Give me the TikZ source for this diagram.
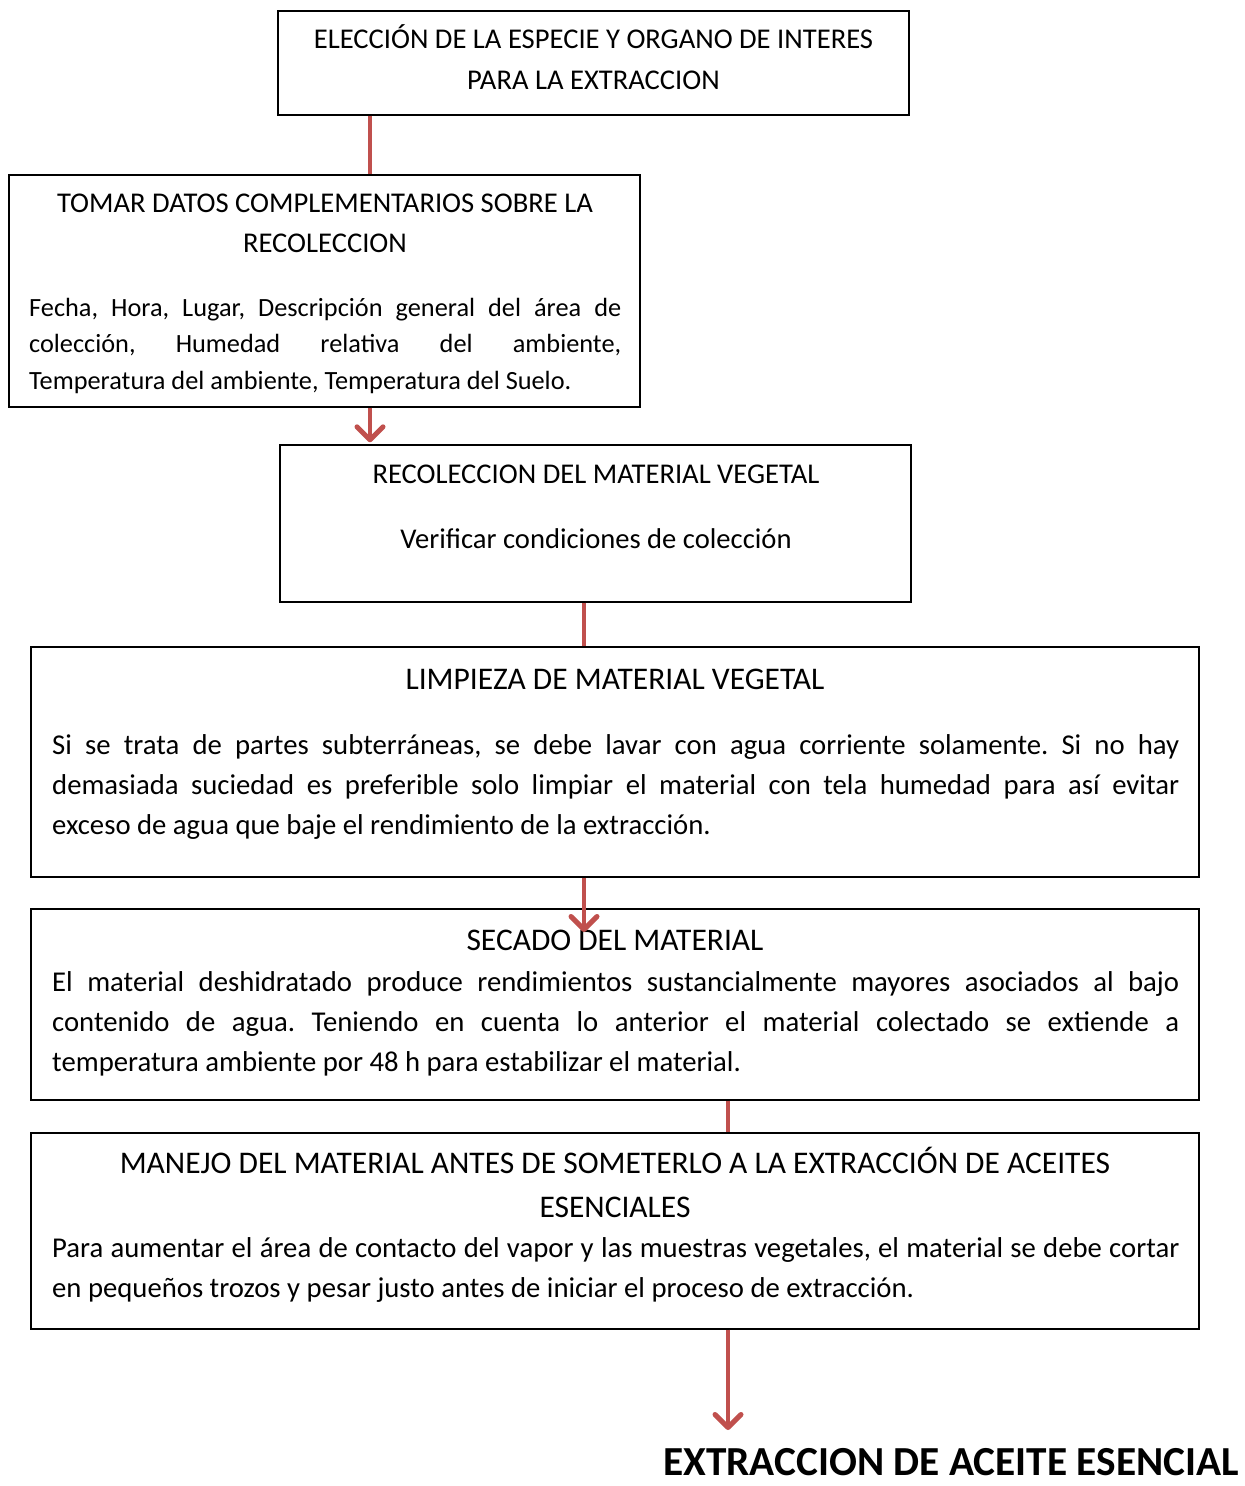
\documentclass[tikz,border=0pt]{standalone}
\usepackage{fontspec}
\setmainfont{Carlito}
\usetikzlibrary{arrows.meta}
\definecolor{arrowred}{HTML}{C0504D}
\frenchspacing
\begin{document}
\begin{tikzpicture}[x=1pt,y=-1pt,
  box/.style={draw=black, line width=1.4pt, fill=white, inner sep=0pt},
  small/.style={inner sep=0pt, font=\fontsize{28.6}{36.5}\selectfont\frenchspacing},
  smallb/.style={inner sep=0pt, font=\fontsize{26.3}{36.5}\selectfont\frenchspacing},
  big/.style={inner sep=0pt, font=\fontsize{31.5}{40}\selectfont\frenchspacing},
  bigb/.style={inner sep=0pt, font=\fontsize{28.7}{40}\selectfont\frenchspacing},
  line/.style={anchor=base},
  para/.style={anchor=base west},
  conn/.style={draw=arrowred, line width=4pt},
  arr/.style={conn, -{Straight Barb[length=13pt,width=26pt,line width=5pt,round]}}
]
\useasboundingbox (0,0) rectangle (1245,1486);
% boxes
\node[box, minimum width=631pt, minimum height=104pt] (b1) at (593.5,63) {};
\node[box, minimum width=631pt, minimum height=232pt] (b2) at (324.5,291) {};
\node[box, minimum width=631pt, minimum height=157pt] (b3) at (595.5,523.5) {};
\node[box, minimum width=1168pt, minimum height=230pt] (b4) at (615,762) {};
\node[box, minimum width=1168pt, minimum height=191pt] (b5) at (615,1004.5) {};
\node[box, minimum width=1168pt, minimum height=196pt] (b6) at (615,1231) {};

% box 1
\node[small, line] (t1a) at (593.5,48) {ELECCIÓN DE LA ESPECIE Y ORGANO DE INTERES};
\node[small, line] (t1b) at (593.5,89) {PARA LA EXTRACCION};
% box 2
\node[small, line] (t2a) at (325,212) {TOMAR DATOS COMPLEMENTARIOS SOBRE LA};
\node[small, line] (t2b) at (325,252) {RECOLECCION};
\node[smallb, para] (t2c) at (29,316) {\vtop{%
\hbox to 592pt{Fecha, Hora, Lugar, Descripción general del área de}%
\hbox to 592pt{colección, Humedad relativa del ambiente,}%
\hbox{Temperatura del ambiente, Temperatura del Suelo.}}};
% box 3
\node[small, line] (t3a) at (596,483) {RECOLECCION DEL MATERIAL VEGETAL};
\node[small, line] (t3b) at (596,548) {Verificar condiciones de colección};
% box 4
\node[big, line] (t4a) at (615,689) {LIMPIEZA DE MATERIAL VEGETAL};
\node[bigb, para] (t4b) at (52,754) {\vtop{%
\hbox to 1127pt{Si se trata de partes subterráneas, se debe lavar con agua corriente solamente. Si no hay}%
\hbox to 1127pt{demasiada suciedad es preferible solo limpiar el material con tela humedad para así evitar}%
\hbox{exceso de agua que baje el rendimiento de la extracción.}}};
% box 5
\node[big, line] (t5a) at (615,950) {SECADO DEL MATERIAL};
\node[bigb, para] (t5b) at (52,991) {\vtop{%
\hbox to 1127pt{El material deshidratado produce rendimientos sustancialmente mayores asociados al bajo}%
\hbox to 1127pt{contenido de agua. Teniendo en cuenta lo anterior el material colectado se extiende a}%
\hbox{temperatura ambiente por 48 h para estabilizar el material.}}};
% box 6
\node[big, line] (t6a) at (615,1173) {MANEJO DEL MATERIAL ANTES DE SOMETERLO A LA EXTRACCIÓN DE ACEITES};
\node[big, line] (t6b) at (615,1217) {ESENCIALES};
\node[bigb, para] (t6c) at (52,1257) {\vtop{%
\hbox to 1127pt{Para aumentar el área de contacto del vapor y las muestras vegetales, el material se debe cortar}%
\hbox{en pequeños trozos y pesar justo antes de iniciar el proceso de extracción.}}};
% final
\node[inner sep=0pt, anchor=base, font=\fontsize{41.3}{48}\selectfont\bfseries] (fin) at (951,1475) {EXTRACCION DE ACEITE ESENCIAL};

% connectors
\coordinate (xa) at (370,0);
\coordinate (xc) at (584,0);
\coordinate (xe) at (728,0);
\coordinate (dtip) at (584,932);
\coordinate (ftip) at (728,1430);
\draw[conn] (b1.south -| xa) -- (b2.north -| xa);
\draw[arr] (b2.south -| xa) -- ([yshift=2pt]b3.north -| xa);
\draw[conn] (b3.south -| xc) -- (b4.north -| xc);
\draw[arr] (b4.south -| xc) -- (dtip);
\draw[conn] (b5.south -| xe) -- (b6.north -| xe);
\draw[arr] (b6.south -| xe) -- (ftip);
\end{tikzpicture}
\end{document}
